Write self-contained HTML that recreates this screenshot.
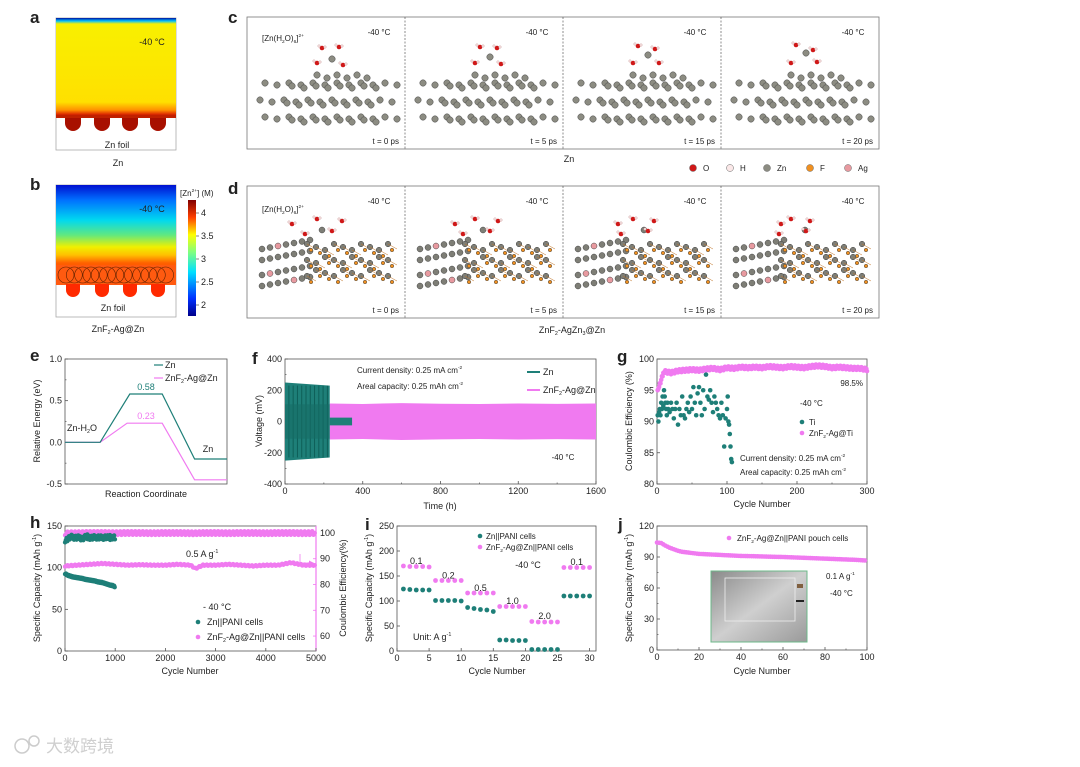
<!DOCTYPE html>
<html><head><meta charset="utf-8"><style>
body{margin:0;background:#fff}
svg{display:block;font-family:"Liberation Sans","Noto Sans CJK SC",sans-serif}
text{fill:#222}
</style></head><body>
<svg id="s" width="1080" height="767" viewBox="0 0 1080 767" xmlns="http://www.w3.org/2000/svg">
<defs>
<linearGradient id="ga" x1="0" y1="0" x2="0" y2="1">
<stop offset="0" stop-color="#0010a0"/><stop offset="0.03" stop-color="#00c0ff"/><stop offset="0.06" stop-color="#f8f000"/><stop offset="0.85" stop-color="#ffe000"/><stop offset="0.93" stop-color="#ff9000"/><stop offset="0.97" stop-color="#e03000"/><stop offset="1" stop-color="#a00000"/></linearGradient>
<linearGradient id="gb" x1="0" y1="0" x2="0" y2="1">
<stop offset="0" stop-color="#0010d0"/><stop offset="0.15" stop-color="#0070ff"/><stop offset="0.35" stop-color="#00d8f0"/><stop offset="0.5" stop-color="#60e880"/><stop offset="0.62" stop-color="#f0f000"/><stop offset="0.7" stop-color="#ffc000"/><stop offset="0.78" stop-color="#ff6000"/><stop offset="1" stop-color="#ff3000"/></linearGradient>
<linearGradient id="gc" x1="0" y1="1" x2="0" y2="0">
<stop offset="0" stop-color="#00008a"/><stop offset="0.15" stop-color="#0030ff"/><stop offset="0.38" stop-color="#00e0ff"/><stop offset="0.55" stop-color="#80ff80"/><stop offset="0.7" stop-color="#ffff00"/><stop offset="0.85" stop-color="#ff4000"/><stop offset="1" stop-color="#800000"/></linearGradient>
<linearGradient id="gp" x1="0" y1="0" x2="1" y2="1">
<stop offset="0" stop-color="#8a8a8a"/><stop offset="0.5" stop-color="#cfcfcf"/><stop offset="1" stop-color="#9a9a9a"/></linearGradient>
</defs>
<g id="root"></g>
</svg>
<script>
// ---------- chart data ----------
const eXZn=[0,1.3,2.4,3.6,4.8,6];
const eYZn=[0,0,0.58,0.58,-0.2,-0.2];
const eXAg=[0,1.3,2.3,3.6,4.8,6];
const eYAg=[0,0,0.23,0.23,-0.45,-0.45];
const fZnTime=[0,230];
const fZnAmp=[250,230];
const fZnShortTime=[230,345];
const fZnShortAmp=[25,25];
const fAgTime=[230,400,600,800,1000,1200,1400,1600];
const fAgAmp=[115,112,118,114,112,115,113,115];
const gTiCycle=[1,2,3,4,5,6,7,8,9,10,11,12,13,14,15,16,18,20,22,24,26,28,30,32,34,36,38,40,42,44,46,48,50,52,54,56,58,60,62,64,66,68,70,72,74,76,78,80,82,84,86,88,90,92,94,96,98,100,101,102,103,104,105,106,107];
const gTiCE=[91,90,91.5,92,91,93,92,94,92.5,95,94,93,92,91,93,92,91.5,93,92,90.5,92,93,89.5,92,91,94,91,90.5,92,93,91.5,94,92,95.5,93,91,94.5,95.5,93,91,95,92,97.5,94,93.5,95,93,91.5,94,93,92,91,90.5,93,91,86,90.5,92,94,90,89.5,88,86,84,83.5];
const gAgCycle=[1,10,20,30,40,50,60,70,80,90,100,110,120,130,140,150,160,170,180,190,200,210,220,230,240,250,260,270,280,290,300];
const gAgCE=[95,98,97.8,98.1,98.2,98.3,98.2,98.4,98.5,98.3,98.6,98.5,98.7,98.6,98.7,98.6,98.8,98.7,98.6,98.8,98.7,98.6,98.8,98.9,98.8,98.6,98.7,98.6,98.5,98.5,98.3];
const hZnCycle=[1,50,100,150,200,250,300,350,400,450,500,550,600,650,700,750,800,850,900,950,1000];
const hZnCap=[93,91,90,89,88.5,88,87.5,87,86,85.5,85,84.5,84,83,82.5,82,81,80,79,78.5,77];
const hZnCE=[97,97.5,98,98.2,98,97.8,98,97.5,98,98.3,98,97.9,98,98.2,97.8,98,98.1,97.9,98,98.2,98];
const hAgCycle=[1,250,500,750,1000,1250,1500,1750,2000,2250,2500,2600,2750,3000,3250,3500,3750,4000,4250,4500,4750,5000];
const hAgCap=[102,103,104,105,104,103,103.5,103,103,104,103,99,103,103,104,103,102,103,103,106,103,103];
const hAgCE=[99.8,99.9,100,100,99.9,100,100,99.9,100,100,99.9,99.9,100,100,99.9,100,100,99.9,100,100,99.9,100];
const iCycle=[1,2,3,4,5,6,7,8,9,10,11,12,13,14,15,16,17,18,19,20,21,22,23,24,25,26,27,28,29,30];
const iZnCap=[124,123,122,122,122,101,101,101,101,100,87,85,83,82,79,22,22,21,21,21,3,3,3,3,3,110,110,110,110,110];
const iAgCap=[170,169,169,169,168,141,141,141,141,141,116,116,116,116,116,89,89,89,89,89,59,58,58,58,58,167,167,167,167,167];
const jCycle=[0,2,4,6,8,10,12,14,16,18,20,25,30,35,40,45,50,55,60,65,70,75,80,85,90,95,100];
const jCap=[104,103.5,101,99,97.5,96,95,94.5,94,93.5,93,92.5,92,91.5,91,90.8,90.5,90.2,90,89.6,89.2,88.8,88.4,88,87.6,87.2,86.5];

// ---------- helpers ----------
const NS='http://www.w3.org/2000/svg';
const root=document.getElementById('root');
function el(tag,attrs,parent,txt){const e=document.createElementNS(NS,tag);for(const k in attrs)e.setAttribute(k,attrs[k]);if(txt!==undefined)e.textContent=txt;(parent||root).appendChild(e);return e;}
function grp(name){const g=el('g',{});


return g;}
function label(g,x,y,t,size,anchor,name,extra){const a={x:x,y:y,'font-size':size||9,'text-anchor':anchor||'start'};if(extra)for(const k in extra)a[k]=extra[k];const e=el('text',a,g,t);


return e;}
function rich(g,x,y,parts,size,anchor,name){const e=el('text',{x:x,y:y,'font-size':size||9,'text-anchor':anchor||'start'},g);


parts.forEach(p=>{const t=el('tspan',{},e,p[0]);if(p[1]==='sup'){t.setAttribute('font-size',(size||9)*0.6);t.setAttribute('dy',-4);}else if(p[1]==='sub'){t.setAttribute('font-size',(size||9)*0.6);t.setAttribute('dy',2);}else if(p[1]==='back'){t.setAttribute('dy',p[2]);}});return e;}
function panelLetter(x,y,t){const e=el('text',{x:x,y:y,'font-size':17,'font-weight':'bold'},root,t);

}
function axes(g,x0,y0,x1,y1,xmin,xmax,ymin,ymax){
 el('rect',{x:x0,y:y0,width:x1-x0,height:y1-y0,fill:'none',stroke:'#555','stroke-width':0.8},g);
 return {x:v=>x0+(v-xmin)/(xmax-xmin)*(x1-x0),y:v=>y1-(v-ymin)/(ymax-ymin)*(y1-y0),x0,y0,x1,y1};
}
function xticks(g,A,vals,labels,minor){vals.forEach((v,i)=>{const x=A.x(v);el('line',{x1:x,y1:A.y1,x2:x,y2:A.y1-3,stroke:'#555','stroke-width':0.8},g);label(g,x,A.y1+10,labels[i],9,'middle','x-tick-label');});
 if(minor)minor.forEach(v=>{const x=A.x(v);el('line',{x1:x,y1:A.y1,x2:x,y2:A.y1-1.5,stroke:'#555','stroke-width':0.7},g);});}
function yticks(g,A,vals,labels,minor){vals.forEach((v,i)=>{const y=A.y(v);el('line',{x1:A.x0,y1:y,x2:A.x0+3,y2:y,stroke:'#555','stroke-width':0.8},g);label(g,A.x0-3,y+3,labels[i],9,'end','y-tick-label');});
 if(minor)minor.forEach(v=>{const y=A.y(v);el('line',{x1:A.x0,y1:y,x2:A.x0+1.5,y2:y,stroke:'#555','stroke-width':0.7},g);});}
function ytitle(g,x,y,parts,name){const e=rich(g,0,0,parts,9,'middle',name);e.setAttribute('transform','translate('+x+','+y+') rotate(-90)');return e;}
const TEAL='#1e7f78',PINK='#f07af0';

// ---------- panels a & b ----------
panelLetter(30,23,'a');panelLetter(30,190,'b');panelLetter(228,23,'c');panelLetter(228,194,'d');
let ga=grp('panel-a-simulation');
el('rect',{x:56,y:18,width:120,height:132,fill:'#fff',stroke:'#aaa','stroke-width':0.8},ga);
el('rect',{x:56,y:18,width:120,height:99,fill:'url(#ga)'},ga);
[73,102,130,158].forEach(cx=>{el('path',{d:'M'+(cx-8)+' 116 L'+(cx-8)+' 123 A8 8 0 0 0 '+(cx+8)+' 123 L'+(cx+8)+' 116 Z',fill:'#a81000'},ga);});
el('rect',{x:56,y:115,width:120,height:3,fill:'#c02000'},ga);
label(ga,152,45,'-40 °C',9,'middle','temperature-label');
label(ga,117,148,'Zn foil',9,'middle','zn-foil-label');
label(ga,118,166,'Zn',9,'middle','panel-a-caption');
let gb=grp('panel-b-simulation');
el('rect',{x:56,y:185,width:120,height:132,fill:'#fff',stroke:'#aaa','stroke-width':0.8},gb);
el('rect',{x:56,y:185,width:120,height:100,fill:'url(#gb)'},gb);
el('rect',{x:56,y:265,width:120,height:20,fill:'#ff5a10'},gb);
for(let i=0;i<13;i++){el('circle',{cx:66+i*8.3,cy:275,r:8,fill:'none',stroke:'#5a2000','stroke-width':0.6},gb);}
[73,102,130,158].forEach(cx=>{el('path',{d:'M'+(cx-7)+' 284 L'+(cx-7)+' 290 A7 7 0 0 0 '+(cx+7)+' 290 L'+(cx+7)+' 284 Z',fill:'#ff2a00'},gb);});
label(gb,152,212,'-40 °C',9,'middle','temperature-label');
label(gb,113,311,'Zn foil',9,'middle','zn-foil-label');
rich(gb,118,332,[['ZnF'],['2','sub'],['-Ag@Zn','back',-2]],9,'middle','panel-b-caption');
let gcb=grp('colorbar');
el('rect',{x:188,y:200,width:8,height:116,fill:'url(#gc)'},gcb);
rich(gcb,180,196,[['[Zn'],['2+','sup'],['] (M)','back',4]],8,'start','colorbar-title');
[[4,213],[3.5,236],[3,259],[2.5,282],[2,305]].forEach(t=>{el('line',{x1:196,y1:t[1],x2:199,y2:t[1],stroke:'#333','stroke-width':0.6},gcb);label(gcb,201,t[1]+3,String(t[0]),9,'start','colorbar-tick');});

// ---------- panels c & d (MD snapshots) ----------
function atom(g,cx,cy,r,fill){el('circle',{cx:cx,cy:cy,r:r,fill:fill,stroke:'#444','stroke-width':0.5},g);}
function water(g,x,y){el('circle',{cx:x,cy:y,r:2.3,fill:'#d01818'},g);el('circle',{cx:x-3,cy:y-2,r:1.3,fill:'#f5dede',stroke:'#b88','stroke-width':0.3},g);el('circle',{cx:x+3,cy:y-1,r:1.3,fill:'#f5dede',stroke:'#b88','stroke-width':0.3},g);}
const times=['t = 0 ps','t = 5 ps','t = 15 ps','t = 20 ps'];
function mdPanel(y0,type,name){
 const g=grp(name);
 el('rect',{x:247,y:y0,width:632,height:132,fill:'#fff',stroke:'#777','stroke-width':0.8},g);
 for(let k=0;k<4;k++){
  const ox=247+k*158;
  if(k>0)el('line',{x1:ox,y1:y0,x2:ox,y2:y0+132,stroke:'#444','stroke-width':0.6,'stroke-dasharray':'2,1.5'},g);
  label(g,ox+132,y0+18,'-40 °C',8,'middle','temperature-label');
  label(g,ox+152,y0+127,times[k],8,'end','time-label');
  if(type==='c'){
   [[66,0],[83,-4],[100,0]].forEach((r,ri)=>{for(let i=0;i<12;i++){const x=ox+18+i*12+(ri===1?-5:0);const y=y0+r[0]+(i%2?2:0);atom(g,x,y,3.2,'#8c8c82');if(i>1&&i<10)atom(g,x+3,y+3,3.2,'#8c8c82');}});
   for(let i=0;i<6;i++){atom(g,ox+70+i*10,y0+58+ (i%2)*3,3.2,'#8c8c82');}
   atom(g,ox+85,y0+42-k*2,3.2,'#8c8c82');
   water(g,ox+75,y0+31-k);water(g,ox+92,y0+30+k);water(g,ox+70,y0+46);water(g,ox+96,y0+48-k);
  }else{
   for(let r=0;r<4;r++){for(let i=0;i<7;i++){atom(g,ox+15+i*8,y0+100-r*13+(r%2)*2-i*1.5,3,(i===2&&r===3)||(i===1&&r===1)||(i===4&&r===0)?'#e89aa0':'#7e7e76');}}
   for(let i=0;i<30;i++){const x=ox+60+(i%10)*9;const y=y0+58+Math.floor(i/10)*13+(i%3)*3;atom(g,x,y,2.8,'#7e7e76');atom(g,x+4,y+6,1.8,'#f09020');el('line',{x1:x,y1:y,x2:x+9,y2:y+5,stroke:'#c07020','stroke-width':0.5},g);}
   atom(g,ox+75+k*3,y0+44,3,'#7e7e76');
   water(g,ox+45+k*5,y0+38);water(g,ox+70,y0+33);water(g,ox+85,y0+45);water(g,ox+95-k*2,y0+35);water(g,ox+58,y0+48);
  }
 }
 if(type==='c')rich(g,262,y0+24,[['[Zn(H'],['2','sub'],['O)','back',-2],['6','sub'],[']','back',-2],['2+','sup']],8,'start','complex-label');
 else rich(g,262,y0+26,[['[Zn(H'],['2','sub'],['O)','back',-2],['6','sub'],[']','back',-2],['2+','sup']],8,'start','complex-label');
}
mdPanel(17,'c','panel-c-zn-snapshots');
mdPanel(186,'d','panel-d-znf2-snapshots');
let gcap=grp('md-captions');
label(gcap,569,162,'Zn',9,'middle','panel-c-caption');
rich(gcap,572,333,[['ZnF'],['2','sub'],['-AgZn','back',-2],['3','sub'],['@Zn','back',-2]],9,'middle','panel-d-caption');
let gleg=grp('atom-legend');
[['O','#d01818',693],['H','#fbe8e8',730],['Zn','#8c8c82',767],['F','#f09020',810],['Ag','#e89aa0',848]].forEach(a=>{el('circle',{cx:a[2],cy:168,r:3.5,fill:a[1],stroke:'#666','stroke-width':0.5},gleg);label(gleg,a[2]+10,171,a[0],8,'start','legend-entry-'+a[0]);});

// ---------- panel e ----------
panelLetter(30,361,'e');
let ge=grp('panel-e-energy');
let A=axes(ge,65,359,227,484,0,6,-0.5,1.0);
yticks(ge,A,[-0.5,0,0.5,1.0],['-0.5','0.0','0.5','1.0'],[-0.25,0.25,0.75]);
ytitle(ge,40,421,[['Relative Energy (eV)']],'y-axis-title');
label(ge,146,497,'Reaction Coordinate',9,'middle','x-axis-title');
function poly(g,xs,ys,A,col,name,w){const p=el('polyline',{points:xs.map((x,i)=>A.x(x)+','+A.y(ys[i])).join(' '),fill:'none',stroke:col,'stroke-width':w||1.2},g);

}
poly(ge,eXAg,eYAg,A,PINK,'series-znf2-ag');poly(ge,eXZn,eYZn,A,TEAL,'series-zn');
label(ge,A.x(3),A.y(eYZn[2])-4,eYZn[2].toFixed(2),9,'middle','value-zn-barrier',{style:'fill:'+TEAL});
label(ge,A.x(3),A.y(eYAg[2])-4,eYAg[2].toFixed(2),9,'middle','value-ag-barrier',{style:'fill:'+PINK});
rich(ge,67,431,[['Zn-H'],['2','sub'],['O','back',-2]],9,'start','label-zn-h2o');
label(ge,208,452,'Zn',9,'middle','label-zn');
el('line',{x1:154,y1:365,x2:163,y2:365,stroke:TEAL,'stroke-width':1.2},ge);label(ge,165,368,'Zn',9,'start','legend-zn');
el('line',{x1:154,y1:378,x2:163,y2:378,stroke:PINK,'stroke-width':1.2},ge);rich(ge,165,381,[['ZnF'],['2','sub'],['-Ag@Zn','back',-2]],9,'start','legend-znf2-ag');

// ---------- panel f ----------
panelLetter(252,364,'f');
let gf=grp('panel-f-voltage');
A=axes(gf,285,359,596,484,0,1600,-400,400);
xticks(gf,A,[0,400,800,1200,1600],['0','400','800','1200','1600'],[200,600,1000,1400]);
yticks(gf,A,[-400,-200,0,200,400],['-400','-200','0','200','400'],[-300,-100,100,300]);
ytitle(gf,262,421,[['Voltage (mV)']],'y-axis-title');
label(gf,440,509,'Time (h)',9,'middle','x-axis-title');
function band(g,ts,amps,A,col,name){const up=ts.map((t,i)=>A.x(t)+','+A.y(amps[i]));const dn=ts.map((t,i)=>A.x(t)+','+A.y(-amps[i])).reverse();const p=el('polygon',{points:up.concat(dn).join(' '),fill:col},g);

}
band(gf,fAgTime,fAgAmp,A,PINK,'series-znf2-ag-band');
band(gf,fZnTime,fZnAmp,A,'#1e7f78','series-zn-band');
band(gf,fZnShortTime,fZnShortAmp,A,'#1e7f78','series-zn-short-band');
for(let t=20;t<230;t+=22){el('line',{x1:A.x(t),y1:A.y(230),x2:A.x(t),y2:A.y(-230),stroke:'#0e5f58','stroke-width':1},gf);}
el('rect',{x:A.x(0),y:A.y(110),width:A.x(230)-A.x(0),height:A.y(-110)-A.y(110),fill:'#166d66',opacity:0.6},gf);
rich(gf,357,373,[['Current density: 0.25 mA cm'],['-2','sup']],8,'start','note-current-density');
rich(gf,357,389,[['Areal capacity: 0.25 mAh cm'],['-2','sup']],8,'start','note-areal-capacity');
el('line',{x1:527,y1:372,x2:540,y2:372,stroke:TEAL,'stroke-width':2},gf);label(gf,543,375,'Zn',9,'start','legend-zn');
el('line',{x1:527,y1:390,x2:540,y2:390,stroke:PINK,'stroke-width':2},gf);rich(gf,543,393,[['ZnF'],['2','sub'],['-Ag@Zn','back',-2]],9,'start','legend-znf2-ag');
label(gf,563,460,'-40 °C',8,'middle','temperature-label');

// ---------- panel g ----------
panelLetter(617,362,'g');
let gg=grp('panel-g-ce');
A=axes(gg,657,359,867,484,0,300,80,100);
xticks(gg,A,[0,100,200,300],['0','100','200','300'],[50,150,250]);
yticks(gg,A,[80,85,90,95,100],['80','85','90','95','100']);
ytitle(gg,632,421,[['Coulombic Efficiency (%)']],'y-axis-title');
label(gg,762,507,'Cycle Number',9,'middle','x-axis-title');
for(let c=1;c<=300;c+=1){let k=Math.min(gAgCycle.length-2,Math.floor((c-1)/10));let v=gAgCE[k]+(gAgCE[k+1]-gAgCE[k])*((c-gAgCycle[k])/(gAgCycle[k+1]-gAgCycle[k]));if(c<3)v=gAgCE[0];const d=el('circle',{cx:A.x(c),cy:A.y(v+((c*7)%5-2)*0.12),r:2.3,fill:PINK},gg);

}
gTiCycle.forEach((c,i)=>{const d=el('circle',{cx:A.x(c),cy:A.y(gTiCE[i]),r:2.3,fill:TEAL},gg);

});
label(gg,863,386,'98.5%',8,'end','value-98-5');
label(gg,800,406,'-40 °C',8,'start','temperature-label');
el('circle',{cx:802,cy:422,r:2.3,fill:TEAL},gg);label(gg,809,425,'Ti',8,'start','legend-ti');
el('circle',{cx:802,cy:433,r:2.3,fill:PINK},gg);rich(gg,809,436,[['ZnF'],['2','sub'],['-Ag@Ti','back',-2]],8,'start','legend-znf2-ag-ti');
rich(gg,740,461,[['Current density: 0.25 mA cm'],['-2','sup']],8,'start','note-current-density');
rich(gg,740,475,[['Areal capacity: 0.25 mAh cm'],['-2','sup']],8,'start','note-areal-capacity');

// ---------- panel h ----------
panelLetter(30,528,'h');
let gh=grp('panel-h-cycling');
A=axes(gh,65,526,316,651,0,5000,0,150);
const yR=v=>651-(v-54.2)/(102.7-54.2)*125;
el('line',{x1:316,y1:526,x2:316,y2:651,stroke:PINK,'stroke-width':1.2},gh);
xticks(gh,A,[0,1000,2000,3000,4000,5000],['0','1000','2000','3000','4000','5000']);
yticks(gh,A,[0,50,100,150],['0','50','100','150']);
[60,70,80,90,100].forEach(v=>{el('line',{x1:316,y1:yR(v),x2:313,y2:yR(v),stroke:PINK,'stroke-width':0.8},gh);label(gh,320,yR(v)+3,String(v),9,'start','right-tick-label');});
ytitle(gh,40,588,[['Specific Capacity (mAh g'],['-1','sup'],[')','back',4]],'y-axis-title');
ytitle(gh,346,588,[['Coulombic Efficiency(%)']],'y-axis-title-right');
label(gh,190,674,'Cycle Number',9,'middle','x-axis-title');
function densePts(g,xs,ys,xf,yf,col,name,step){for(let i=0;i<xs.length-1;i++){for(let c=xs[i];c<xs[i+1];c+=step){const v=ys[i]+(ys[i+1]-ys[i])*(c-xs[i])/(xs[i+1]-xs[i]);const d=el('circle',{cx:xf(c),cy:yf(v+((c/step)%3-1)*0.7),r:2.2,fill:col},g);

}}}
densePts(gh,hAgCycle,hAgCE,A.x,yR,PINK,'point-znf2-ag-ce',25);
densePts(gh,hAgCycle,hAgCap,A.x,A.y,PINK,'point-znf2-ag-capacity',25);
densePts(gh,hZnCycle,hZnCE,A.x,yR,TEAL,'point-zn-ce',15);
densePts(gh,hZnCycle,hZnCap,A.x,A.y,TEAL,'point-zn-capacity',10);
rich(gh,186,557,[['0.5 A g'],['-1','sup']],9,'start','current-label');
el('polyline',{points:'300,554 300,563 311,563',fill:'none',stroke:PINK,'stroke-width':0.8},gh);
el('polygon',{points:'314,563 309,560.5 309,565.5',fill:PINK},gh);
label(gh,203,610,'- 40 °C',9,'start','temperature-label');
el('circle',{cx:198,cy:622,r:2.3,fill:TEAL},gh);label(gh,207,625,'Zn||PANI cells',9,'start','legend-zn-pani');
el('circle',{cx:198,cy:637,r:2.3,fill:PINK},gh);rich(gh,207,640,[['ZnF'],['2','sub'],['-Ag@Zn||PANI cells','back',-2]],9,'start','legend-znf2-pani');

// ---------- panel i ----------
panelLetter(365,530,'i');
let gi=grp('panel-i-rate');
A=axes(gi,397,526,596,651,0,31,0,250);
xticks(gi,A,[0,5,10,15,20,25,30],['0','5','10','15','20','25','30']);
yticks(gi,A,[0,50,100,150,200,250],['0','50','100','150','200','250']);
ytitle(gi,372,588,[['Specific Capacity (mAh g'],['-1','sup'],[')','back',4]],'y-axis-title');
label(gi,497,674,'Cycle Number',9,'middle','x-axis-title');
iCycle.forEach((c,i)=>{let d=el('circle',{cx:A.x(c),cy:A.y(iAgCap[i]),r:2.4,fill:PINK},gi);


d=el('circle',{cx:A.x(c),cy:A.y(iZnCap[i]),r:2.4,fill:TEAL},gi);

});
el('circle',{cx:480,cy:536,r:2.3,fill:TEAL},gi);label(gi,486,539,'Zn||PANI cells',8,'start','legend-zn-pani');
el('circle',{cx:480,cy:547,r:2.3,fill:PINK},gi);rich(gi,486,550,[['ZnF'],['2','sub'],['-Ag@Zn||PANI cells','back',-2]],8,'start','legend-znf2-pani');
[['0.1',3,180],['0.2',8,151],['0.5',13,126],['1.0',18,100],['2.0',23,70],['0.1',28,178]].forEach(r=>label(gi,A.x(r[1]),A.y(r[2])+3,r[0],9,'middle','rate-label'));
label(gi,528,568,'-40 °C',9,'middle','temperature-label');
rich(gi,413,640,[['Unit: A g'],['-1','sup']],9,'start','unit-label');

// ---------- panel j ----------
panelLetter(618,530,'j');
let gj=grp('panel-j-pouch');
A=axes(gj,657,526,867,650,0,100,0,120);
xticks(gj,A,[0,20,40,60,80,100],['0','20','40','60','80','100'],[10,30,50,70,90]);
yticks(gj,A,[0,30,60,90,120],['0','30','60','90','120'],[15,45,75,105]);
ytitle(gj,632,588,[['Specific Capacity (mAh g'],['-1','sup'],[')','back',4]],'y-axis-title');
label(gj,762,674,'Cycle Number',9,'middle','x-axis-title');
for(let i=0;i<jCycle.length-1;i++){for(let c=jCycle[i];c<jCycle[i+1];c+=1){const v=jCap[i]+(jCap[i+1]-jCap[i])*(c-jCycle[i])/(jCycle[i+1]-jCycle[i]);const d=el('circle',{cx:A.x(c),cy:A.y(v),r:2.3,fill:PINK},gj);

}}
const ph=el('rect',{x:711,y:571,width:96,height:71,fill:'url(#gp)',stroke:'#6cb88a','stroke-width':1},gj);


el('rect',{x:725,y:578,width:70,height:43,fill:'none',stroke:'#eee','stroke-width':0.8},gj);
el('rect',{x:797,y:584,width:6,height:4,fill:'#806040'},gj);el('rect',{x:796,y:600,width:8,height:2,fill:'#222'},gj);
el('circle',{cx:729,cy:538,r:2.3,fill:PINK},gj);rich(gj,737,541,[['ZnF'],['2','sub'],['-Ag@Zn||PANI  pouch cells','back',-2]],8,'start','legend-pouch');
rich(gj,826,579,[['0.1 A g'],['-1','sup']],8,'start','current-label');
label(gj,830,596,'-40 °C',8,'start','temperature-label');

// watermark
let gw=grp('watermark');
el('circle',{cx:22,cy:746,r:7,fill:'none',stroke:'#ccc','stroke-width':1.5},gw);
el('circle',{cx:34,cy:741,r:5,fill:'none',stroke:'#ccc','stroke-width':1.5},gw);
label(gw,46,752,'大数跨境',17,'start','watermark-text',{style:'fill:#cfcfcf'});
</script>
</body></html>
